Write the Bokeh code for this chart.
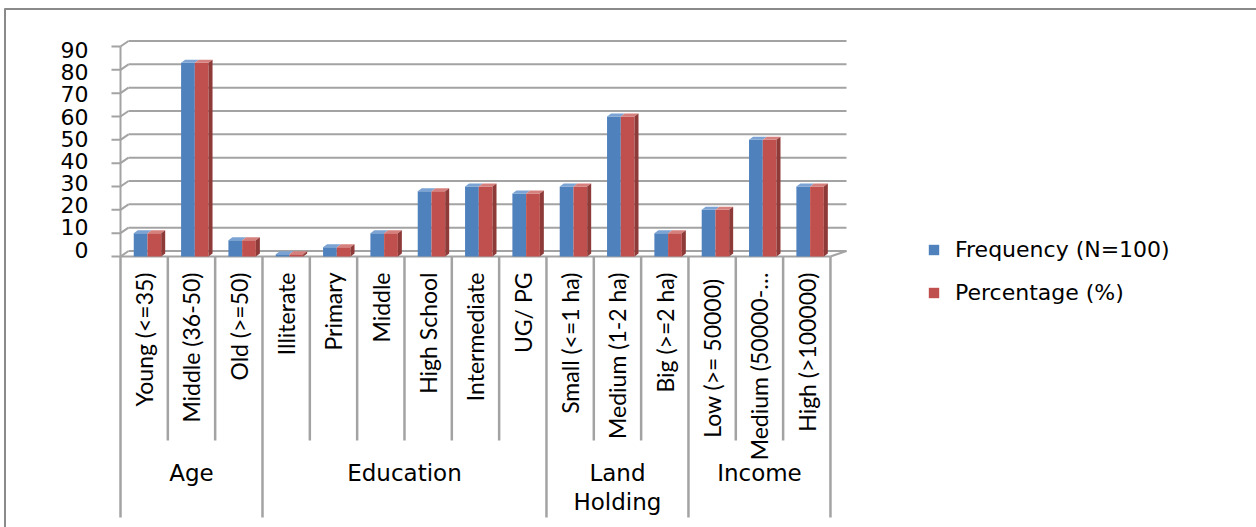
import numpy as np
from math import pi
from bokeh.plotting import figure
from bokeh.models import Range1d, Legend, LegendItem
from bokeh.core.properties import value
from bokeh.embed import file_html
from bokeh.resources import INLINE

# ---------------- data ----------------
categories = ["Young (<=35)", "Middle (36-50)", "Old (>=50)",
              "Illiterate", "Primary", "Middle", "High School", "Intermediate", "UG/ PG",
              "Small (<=1 ha)", "Medium (1-2 ha)", "Big (>=2 ha)",
              "Low  (>= 50000)", "Medium (50000-\u2026", "High (>100000)"]
frequency = [10, 83, 7, 1, 4, 10, 28, 30, 27, 30, 60, 10, 20, 50, 30]
percentage = [10, 83, 7, 1, 4, 10, 28, 30, 27, 30, 60, 10, 20, 50, 30]
groups = ["Age", "Education", "Land\nHolding", "Income"]
group_sizes = [3, 6, 3, 3]
y_ticks = [0, 10, 20, 30, 40, 50, 60, 70, 80, 90]
series_names = ["Frequency (N=100)", "Percentage (%)"]

# ---------------- layout helpers (pixel -> data) ----------------
W, H = 1256, 527
X0, Y0 = 120.0, 256.0       # pixel position of first category boundary / value 0
SX, SY = 47.33, 2.3333      # pixels per category / per value unit


def xd(px):
    return -0.5 + (px - X0) / SX


def yd(py):
    return (Y0 - py) / SY


BLUE, BLUE_TOP = "#4F81BD", "#7BA3D3"
RED, RED_TOP, RED_SIDE = "#C0504D", "#D6807D", "#8E3A38"
GRID = "#a3a3a3"
FONT_MAIN = "DejaVu Sans"
FONT_CAT = "Lato"

p = figure(width=W, height=H, x_range=Range1d(xd(0), xd(W)), y_range=Range1d(yd(H), yd(0)),
           output_backend="svg", toolbar_location=None, min_border=0, title=None,
           x_axis_location=None, y_axis_location=None,
           background_fill_color="white", border_fill_color="white")
p.grid.visible = False
p.outline_line_color = None

n = len(categories)
idx = np.arange(n, dtype=float)
yt = np.array(y_ticks, dtype=float)
x_left, x_right = -0.5, n - 0.5
dxw, dyw = 8 / SX, 5.5 / SY          # back-wall offset
x_back_right = xd(846)

# outer chart border (top and left)
p.segment(x0=[xd(4), xd(4.5)], y0=[yd(8.5), yd(8)], x1=[xd(W), xd(4.5)], y1=[yd(8.5), yd(H)],
          line_color="#8a8a8a", line_width=2)

# back wall gridlines
p.segment(x0=x_left + dxw, y0=yt + dyw, x1=x_back_right, y1=yt + dyw, line_color=GRID, line_width=2)
p.segment(x0=x_left, y0=yt, x1=x_left + dxw, y1=yt + dyw, line_color=GRID, line_width=2)
# floor right edge
p.segment(x0=[x_right], y0=[0], x1=[x_back_right], y1=[dyw], line_color=GRID, line_width=2)

# y axis line, ticks, labels
p.segment(x0=[x_left], y0=[0], x1=[x_left], y1=[yt.max()], line_color=GRID, line_width=2)
p.segment(x0=xd(111), y0=yt, x1=x_left, y1=yt, line_color=GRID, line_width=2)
p.text(x=xd(88), y=3.0 + 0.95 * yt, text=[str(int(t)) for t in y_ticks],
       text_align="right", text_baseline="middle", text_font=value(FONT_MAIN),
       text_font_size="22px", text_color="black")

# x axis line
p.segment(x0=[x_left], y0=[0], x1=[x_right], y1=[0], line_color=GRID, line_width=2)

# ---------------- bars ----------------
bw = 0.29
off_b, off_r = -0.075, 0.215
ddx, ddy = 4 / SX, 3 / SY
fb = np.array(frequency, dtype=float)
fr = np.array(percentage, dtype=float)

rb = p.vbar(x=idx + off_b, top=fb, bottom=0, width=bw, fill_color=BLUE, line_color=None)
rr = p.vbar(x=idx + off_r, top=fr, bottom=0, width=bw, fill_color=RED, line_color=None)


def tops(xc, v):
    l, r = xc - bw / 2, xc + bw / 2
    return ([[a, b, b + ddx, a + ddx] for a, b in zip(l, r)],
            [[t, t, t + ddy, t + ddy] for t in v])


txs, tys = tops(idx + off_b, fb)
p.patches(xs=txs, ys=tys, fill_color=BLUE_TOP, line_color=None)
txs, tys = tops(idx + off_r, fr)
p.patches(xs=txs, ys=tys, fill_color=RED_TOP, line_color=None)
rr_right = idx + off_r + bw / 2
p.patches(xs=[[a, a + ddx, a + ddx, a] for a in rr_right],
          ys=[[0, ddy, t + ddy, t] for t in fr], fill_color=RED_SIDE, line_color=None)

# ---------------- category axis ----------------
bounds = np.cumsum([0] + group_sizes)
seps = np.arange(n + 1) - 0.5
sep_bottom = [yd(517) if k in bounds else yd(440) for k in range(n + 1)]
p.segment(x0=seps, y0=0, x1=seps, y1=sep_bottom, line_color=GRID, line_width=2.5)

p.text(x=idx, y=yd(272), text=categories, angle=pi / 2, text_align="right",
       text_baseline="middle", text_font=value(FONT_CAT), text_font_size="23px",
       text_color="black")

gcent = (bounds[:-1] + bounds[1:]) / 2 - 0.5
p.text(x=gcent, y=yd(459), text=groups, text_align="center", text_baseline="top",
       text_font=value(FONT_MAIN), text_font_size="23px", text_color="black",
       text_line_height=1.12)

# ---------------- legend ----------------
legend = Legend(items=[LegendItem(label=series_names[0], renderers=[rb]),
                       LegendItem(label=series_names[1], renderers=[rr])],
                location=(927, 222), padding=0, margin=0, border_line_color=None,
                background_fill_alpha=0, glyph_width=13, glyph_height=13, label_height=26,
                spacing=17, label_standoff=15, label_text_font=FONT_MAIN,
                label_text_font_size="22px", label_text_color="black")
p.add_layout(legend)

open("out.html", "w").write(file_html(p, INLINE))
